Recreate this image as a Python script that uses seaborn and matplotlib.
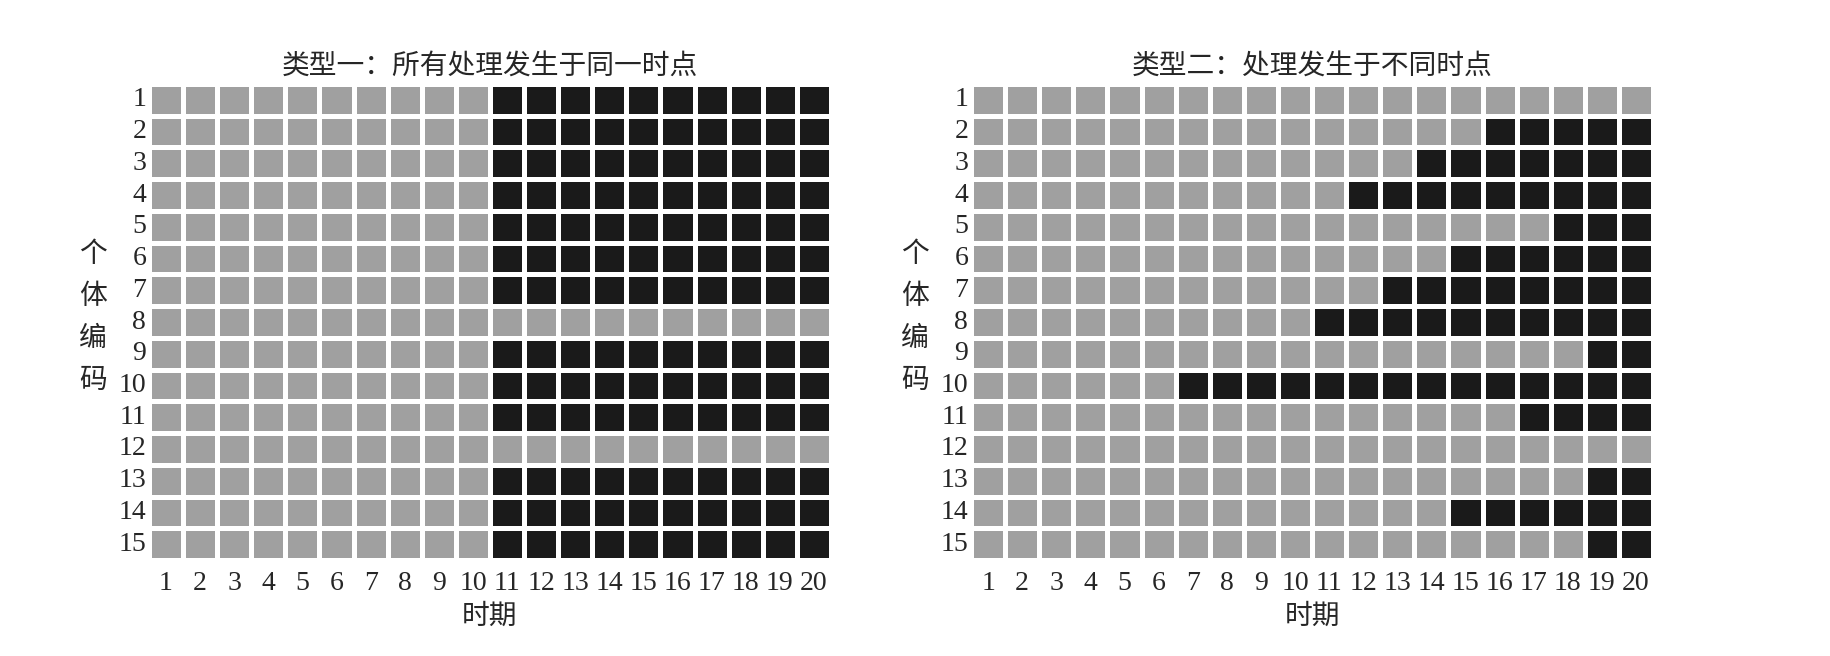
import numpy as np
import pandas as pd
import matplotlib
matplotlib.use("Agg")
import matplotlib.pyplot as plt
from matplotlib.colors import ListedColormap
import seaborn as sns

sns.set_theme(style="white")
plt.rcParams['font.family'] = ['Liberation Serif', 'Noto Sans CJK SC']

# Data: 15 individuals, 20 periods; first treated period per individual (0 = never treated)
individuals = list(range(1, 16))
periods = list(range(1, 21))
start_type1 = [11, 11, 11, 11, 11, 11, 11, 0, 11, 11, 11, 0, 11, 11, 11]
start_type2 = [0, 16, 14, 12, 18, 15, 13, 11, 19, 7, 17, 0, 19, 15, 19]
titles = ['类型一：所有处理发生于同一时点', '类型二：处理发生于不同时点']


def treat_table(starts):
    rows = []
    for s in starts:
        rows.append([1 if (s > 0 and p >= s) else 0 for p in periods])
    return pd.DataFrame(rows, index=individuals, columns=periods)


cmap = ListedColormap(['#a0a0a0', '#1a1a1a'])
cjk = ['Noto Sans CJK SC', 'DejaVu Sans']

fig = plt.figure(figsize=(18.3, 6.56), dpi=100)
boxes = [[0.0814, 0.1463, 0.3727, 0.7256], [0.5306, 0.1463, 0.3727, 0.7256]]

for box, starts, title in zip(boxes, [start_type1, start_type2], titles):
    ax = fig.add_axes(box)
    sns.heatmap(treat_table(starts), cmap=cmap, vmin=0, vmax=1, cbar=False,
                linewidths=2.5, linecolor='white', ax=ax)
    ax.set_title(title, family=cjk, fontsize=20, pad=7)
    ax.set_xlabel('时期', family=cjk, fontsize=20, labelpad=3)
    ax.set_ylabel('')
    ax.tick_params(axis='both', length=0, labelsize=20)
    ax.tick_params(axis='x', pad=8)
    ax.tick_params(axis='y', pad=2)
    plt.setp(ax.get_yticklabels(), rotation=0)
    plt.setp(ax.get_xticklabels(), rotation=0)
    # vertical stacked y label
    fig.text(box[0] - 0.0305, box[1] + box[3] * 0.51, '个\n体\n编\n码',
             family=cjk, fontsize=20, ha='center', va='center', linespacing=1.52)

fig.savefig('out.png', dpi=100)
